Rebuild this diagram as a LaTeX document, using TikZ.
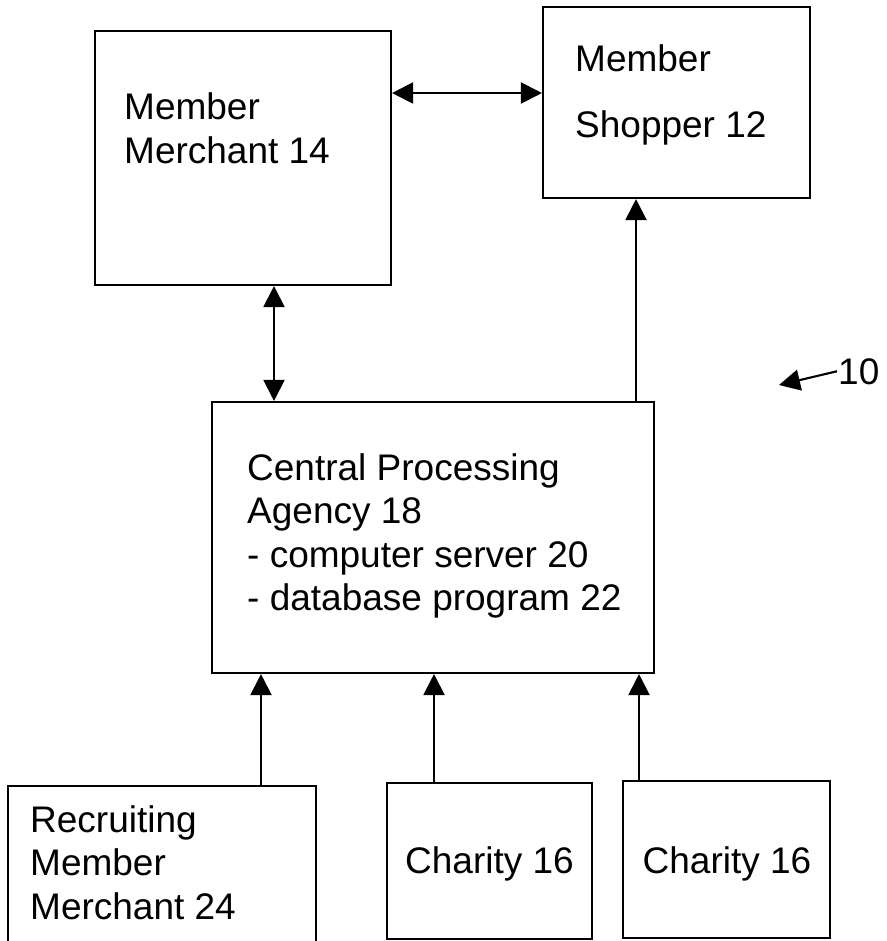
\documentclass[tikz,border=0pt]{standalone}
\usepackage{fontspec}
\setmainfont{Liberation Sans}
\usetikzlibrary{arrows.meta}
\begin{document}
\begin{tikzpicture}[x=1pt,y=-1pt,
  box/.style={draw, line width=2.1pt, inner sep=0pt},
  txt/.style={anchor=base west, inner sep=0pt, font=\fontsize{37}{43.5}\selectfont},
  arr/.style={line width=2.1pt, -{Triangle[length=21pt,width=21pt]}},
  darr/.style={line width=2.1pt, {Triangle[length=21pt,width=21pt]}-{Triangle[length=21pt,width=21pt]}}]
\useasboundingbox (0,0) rectangle (886,941);
\clip (0,0) rectangle (886,941);
% boxes
\node[box, minimum width=296pt, minimum height=254pt] (merchant) at (243,158) {};
\node[box, minimum width=267pt, minimum height=191pt] (shopper) at (676.5,102.5) {};
\node[box, minimum width=442pt, minimum height=271pt] (cpa) at (433,537.5) {};
\node[box, minimum width=308pt, minimum height=170pt] (recruit) at (162,871) {};
\node[box, minimum width=205pt, minimum height=156pt] (charityA) at (489.5,861) {};
\node[box, minimum width=207pt, minimum height=157pt] (charityB) at (726.5,859.5) {};
% texts
\node[txt] (merchantText) at (124,120) {\begin{tabular}[t]{@{}l@{}}Member\\Merchant 14\end{tabular}};
\node[txt] (shopperText) at (575,72) {\begin{tabular}[t]{@{}l@{}}Member\\[22pt]Shopper 12\end{tabular}};
\node[txt] (cpaText) at (247,480) {\begin{tabular}[t]{@{}l@{}}Central Processing\\Agency 18\\- computer server 20\\- database program 22\end{tabular}};
\node[txt] (recruitText) at (30,832) {\begin{tabular}[t]{@{}l@{}}Recruiting\\Member\\Merchant 24\end{tabular}};
\node[txt, anchor=base] (charityAText) at (489.5,873) {Charity 16};
\node[txt, anchor=base] (charityBText) at (727,873) {Charity 16};
\node[txt] (ten) at (838,384) {10};
% helper coordinates
\coordinate (hA) at (0,93);
\coordinate (vA) at (274,0);
\coordinate (vB) at (636,0);
\coordinate (vC) at (261,0);
\coordinate (vD) at (434,0);
\coordinate (vE) at (639,0);
\coordinate (tenTip) at (779,385);
% connectors
\draw[darr] (merchant.east |- hA) -- (shopper.west |- hA);
\draw[darr] (merchant.south -| vA) -- (cpa.north -| vA);
\draw[arr] (cpa.north -| vB) -- (shopper.south -| vB);
\draw[arr] (recruit.north -| vC) -- (cpa.south -| vC);
\draw[arr] (charityA.north -| vD) -- (cpa.south -| vD);
\draw[arr] (charityB.north -| vE) -- (cpa.south -| vE);
\draw[arr] ([xshift=-1pt]ten.west) -- (tenTip);
\end{tikzpicture}
\end{document}
